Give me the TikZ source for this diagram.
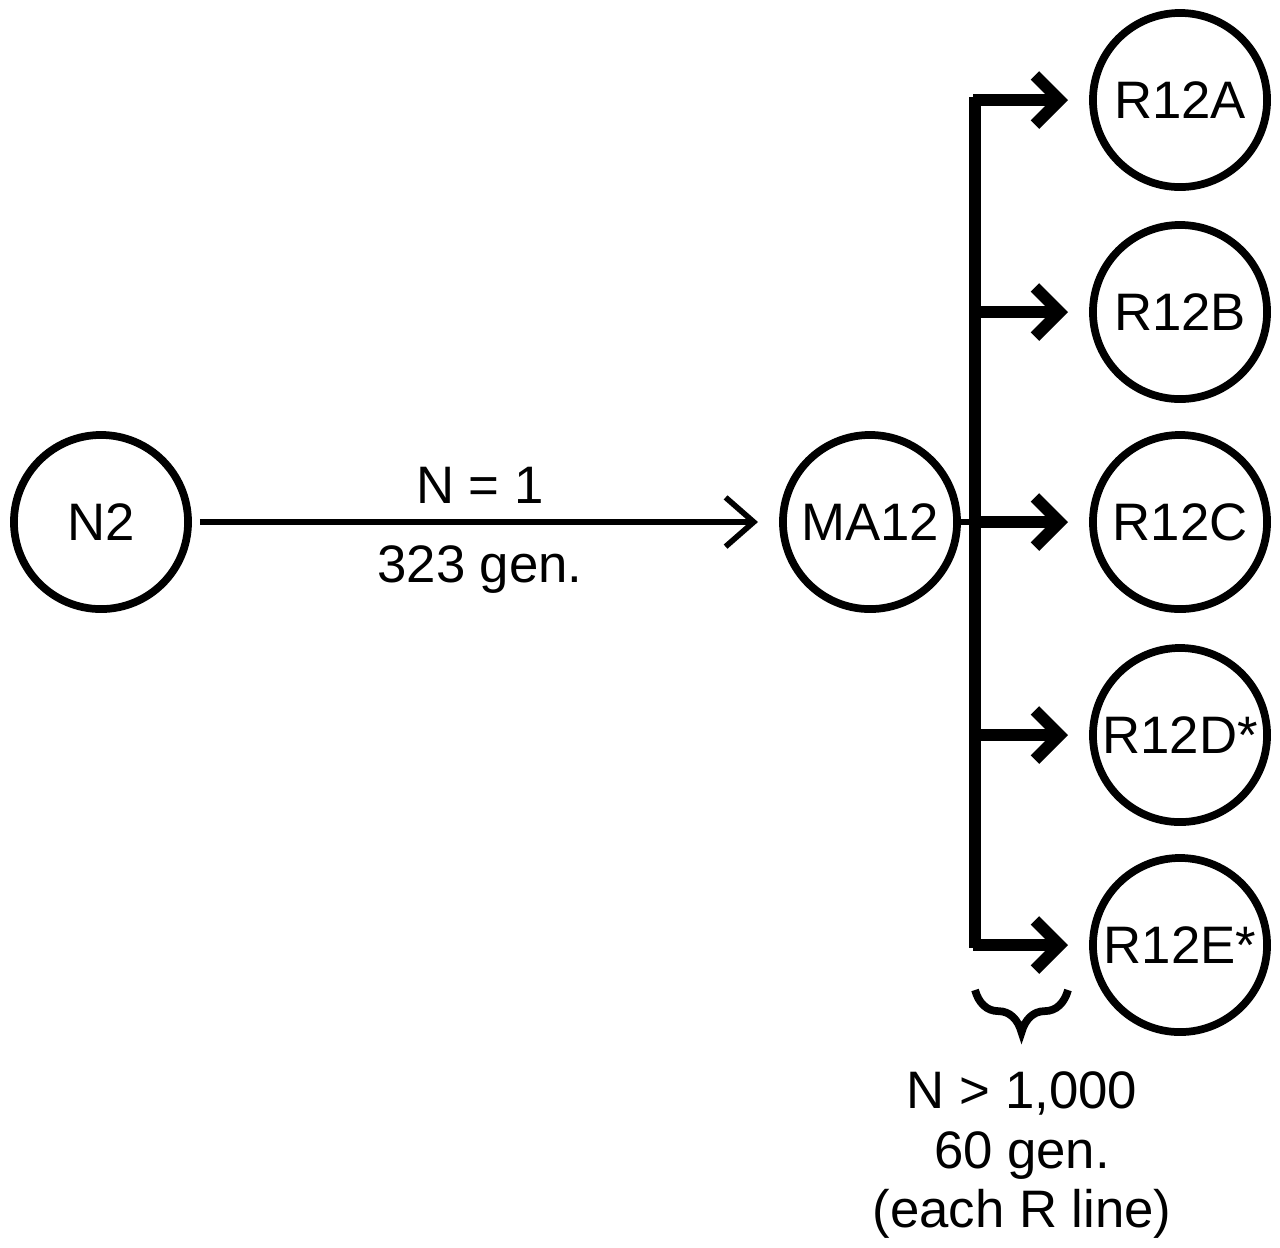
\documentclass[tikz,border=0pt]{standalone}
\usepackage{fontspec}
\setmainfont{Liberation Sans}
\usetikzlibrary{arrows.meta,decorations.pathreplacing}
\begin{document}
\begin{tikzpicture}[x=0.01cm,y=-0.01cm,
  circ/.style={circle,draw,line width=2.2pt,minimum size=1.74cm,inner sep=0pt,font=\fontsize{15}{17}\selectfont},
  lbl/.style={font=\fontsize{15}{17}\selectfont},
  thin/.style={line width=1.6pt,-{Straight Barb[length=8pt,width=14pt]}},
  heavy/.style={line width=3.4pt,-{Straight Barb[length=7pt,width=14pt]}}]
\useasboundingbox (0,0) rectangle (1280,1247);
\node[circ] (n2) at (101,522) {N2};
\node[circ] (ma) at (870,522) {MA12};
\node[circ] (ra) at (1180,100) {R12A};
\node[circ] (rb) at (1180,312) {R12B};
\node[circ] (rc) at (1180,522) {R12C};
\node[circ] (rd) at (1180,735) {R12D*};
\node[circ] (re) at (1180,945) {R12E*};
\draw[thin] (n2.east)+(8,0) -- ([xshift=-6pt]ma.west);
\node[lbl] at (480,485) {N = 1};
\node[lbl] at (480,570) {323 gen.};
\coordinate (ta) at (975,100);
\coordinate (te) at (975,945);
\coordinate (tc) at (975,522);
\draw[line width=1.6pt] (ma.east) -- (tc);
\draw[line width=3.4pt] (975,97) -- (975,948);
\foreach \r/\y in {ra/100,rb/312,rc/522,rd/735,re/945}
  \draw[heavy] (973,\y) -- ([xshift=-6pt]\r.west);
\draw[line width=2.2pt,decorate,decoration={brace,mirror,amplitude=12pt}] (975,990) -- (1068,990);
\node[lbl,align=center] at (1022,1155) {N > 1,000\\60 gen.\\(each R line)};
\end{tikzpicture}
\end{document}
